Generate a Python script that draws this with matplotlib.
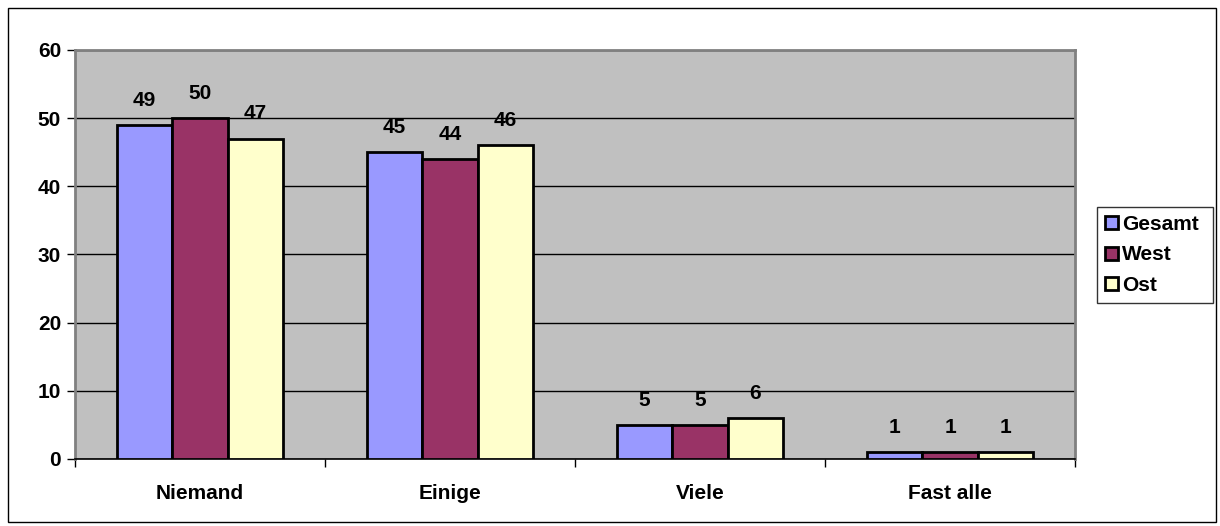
import matplotlib
matplotlib.use("Agg")
import matplotlib.pyplot as plt
import numpy as np
from matplotlib.patches import Rectangle

categories = ["Niemand", "Einige", "Viele", "Fast alle"]
series_names = ["Gesamt", "West", "Ost"]
gesamt = [49, 45, 5, 1]
west = [50, 44, 5, 1]
ost = [47, 46, 6, 1]
colors = ["#9999FF", "#993366", "#FFFFCC"]

plt.rcParams['font.family'] = ['Liberation Sans', 'DejaVu Sans']
plt.rcParams['font.weight'] = 'bold'

FS = 15
W, H = 1220, 526
fig = plt.figure(figsize=(W/100, H/100), dpi=100)
ax = fig.add_axes([75/W, 1-459/H, 1000/W, 409/H])
ax.set_facecolor("#C0C0C0")

x = np.arange(len(categories))
bw = 0.222
data = [gesamt, west, ost]
for i, (vals, name, c) in enumerate(zip(data, series_names, colors)):
    pos = x + (i-1)*bw
    ax.bar(pos, vals, width=bw, color=c, edgecolor="black", linewidth=2, label=name, zorder=3)
    for p, v in zip(pos, vals):
        ax.annotate(str(v), (p, v), xytext=(0, 11), textcoords="offset points",
                    ha="center", va="bottom", fontsize=FS, fontweight="bold")

ax.set_xlim(-0.5, 3.5)
ax.set_ylim(0, 60)
ax.set_yticks(range(0, 61, 10))
ax.yaxis.grid(True, color="black", linewidth=1)
ax.set_axisbelow(True)
ax.set_xticks(x)
ax.set_xticklabels(categories, fontsize=FS, fontweight="bold")
ax.tick_params(axis="x", length=0, pad=18)
ax.set_xticks(np.arange(-0.5, 4.0, 1.0), minor=True)
ax.tick_params(axis="x", which="minor", length=6, width=1, direction="out")
ax.tick_params(axis="y", length=6, width=1, direction="out", labelsize=FS, pad=4)
for lab in ax.get_yticklabels():
    lab.set_fontweight("bold")
for s in ["left", "top", "right"]:
    ax.spines[s].set_color("#808080")
    ax.spines[s].set_linewidth(2)
ax.spines["bottom"].set_color("black")
ax.spines["bottom"].set_linewidth(1.2)

leg = ax.legend(loc="center left", bbox_to_anchor=(1097/W, 1-307/H, 116/W, 104/H),
                bbox_transform=fig.transFigure, mode="expand",
                frameon=True, fancybox=False, edgecolor="black", fontsize=FS,
                handlelength=0.6, handleheight=0.6, handletextpad=0.2, labelspacing=0.55,
                borderaxespad=0, borderpad=0.4)
leg.get_frame().set_linewidth(1)
for t in leg.get_texts():
    t.set_fontweight("bold")

fig.patches.append(Rectangle((8/W, 1-522/H), 1208/W, 514/H, transform=fig.transFigure,
                             fill=False, edgecolor="black", linewidth=1))

fig.savefig("out.png", dpi=100)
